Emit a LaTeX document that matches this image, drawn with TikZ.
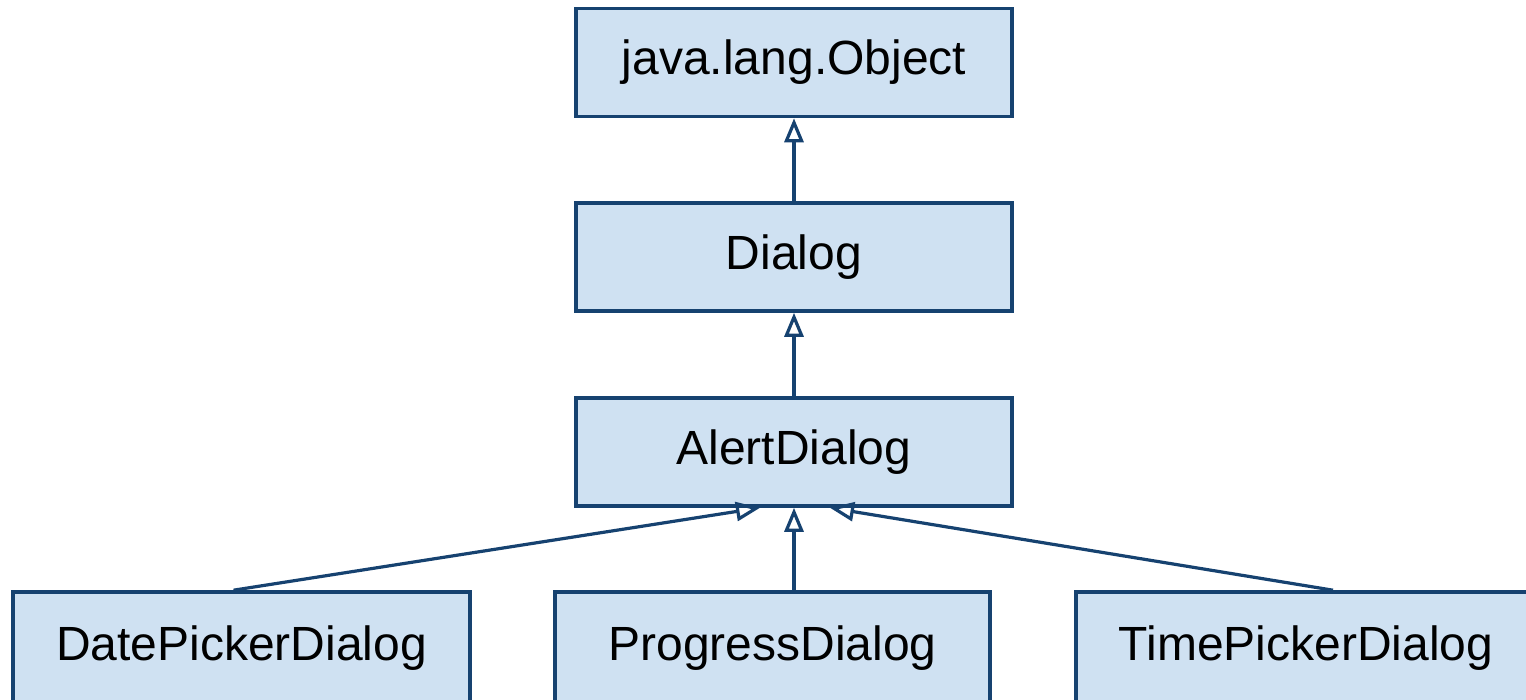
\documentclass[tikz,border=0pt]{standalone}
\usepackage{fontspec}
\setmainfont{Liberation Sans}
\usetikzlibrary{arrows.meta}
\definecolor{umlline}{RGB}{22,66,112}
\definecolor{umlfill}{RGB}{207,225,242}
\begin{document}
\begin{tikzpicture}[x=0.5pt,y=-0.5pt,
  classbox/.style={draw=umlline, fill=umlfill, line width=1.8pt,
    minimum height=54pt, inner sep=0pt,
    font=\fontsize{24}{29}\selectfont},
  inh/.style={draw=umlline, line width=1.6pt,
    -{Triangle[open, length=12pt, width=9.5pt, line width=1.6pt]}}]
  \useasboundingbox (0,0) rectangle (1526,700);
  \clip (0,0) rectangle (1526,700);
  % class hierarchy
  \node[classbox, minimum width=218pt] (obj)   at (794,62.5)  {java.lang.Object};
  \node[classbox, minimum width=218pt] (dlg)   at (794,257)   {Dialog};
  \node[classbox, minimum width=218pt] (alert) at (794,452)   {AlertDialog};
  \node[classbox, minimum width=228.5pt, minimum height=56pt] (date) at (241.5,648) {DatePickerDialog};
  \node[classbox, minimum width=217.5pt, minimum height=56pt] (prog) at (772.5,648) {ProgressDialog};
  \node[classbox, minimum width=230pt, minimum height=56pt] (time) at (1306,648)  {TimePickerDialog};
  % generalisation arrows
  \draw[inh] (dlg.north) -- (obj.south);
  \draw[inh] (alert.north) -- (dlg.south);
  \draw[inh] ([xshift=-4pt]date.north) -- ([xshift=-17pt]alert.south);
  \draw[inh] (prog.north -| alert.south) -- (alert.south);
  \draw[inh] ([xshift=13.5pt]time.north) -- ([xshift=18pt]alert.south);
\end{tikzpicture}
\end{document}
